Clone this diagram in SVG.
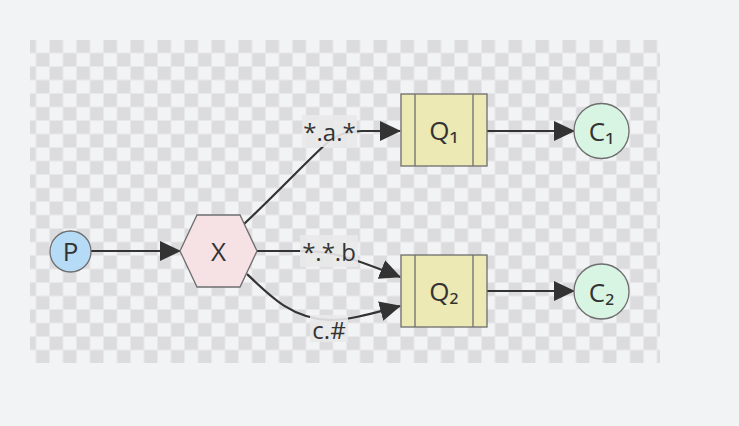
<svg xmlns="http://www.w3.org/2000/svg" width="739" height="426" viewBox="0 0 739 426">
<defs>
<pattern id="chk" patternUnits="userSpaceOnUse" x="22.5" y="39.5" width="27" height="27">
<rect x="0" y="0" width="27" height="27" fill="#f2f3f5"/>
<rect x="0" y="0" width="13.5" height="13.5" fill="#dcdcde"/>
<rect x="13.5" y="13.5" width="13.5" height="13.5" fill="#dcdcde"/>
</pattern>
<marker id="arr" markerUnits="userSpaceOnUse" markerWidth="22" markerHeight="22" refX="20" refY="10" orient="auto">
<path d="M0,0 L21,10 L0,20 z" fill="#333"/>
</marker>
</defs>
<style>
.edge{fill:none;stroke:#333;stroke-width:2.2;marker-end:url(#arr)}
.txt{font-family:"Open Sans","Noto Sans","DejaVu Sans",sans-serif;fill:#333;text-anchor:middle;dominant-baseline:central}
.nt{font-size:26px}
.lt{font-size:24px}
.sub{font-size:16px}
.lbg{fill:#e9e9ea;opacity:0.9}
.ns{stroke:#6e6e6e;stroke-width:1.3}
</style>
<rect width="739" height="426" fill="#f2f3f5"/>
<rect x="30" y="40" width="630" height="323" fill="url(#chk)"/>
<g id="edges">
<path class="edge" d="M91,251 L180,251"/>
<path class="edge" d="M244,224 C280,190 310,158 328,142 C338,134 350,131 362,131 L400,131"/>
<path class="edge" d="M257,251 L300,251 C330,251 345,255 400,277"/>
<path class="edge" d="M247,274 C272,298 292,318 329,320 C350,320 370,314 400,306"/>
<path class="edge" d="M487,131 L574,131"/>
<path class="edge" d="M487,291 L574,291"/>
</g>
<g id="label-a">
<rect class="lbg" x="302" y="115" width="55" height="32"/>
<text class="txt lt" x="329.5" y="131">*.a.*</text>
</g>
<g id="label-b">
<rect class="lbg" x="300" y="235" width="58" height="32"/>
<text class="txt lt" x="329" y="251">*.*.b</text>
</g>
<g id="label-c">
<rect class="lbg" x="310" y="315" width="38" height="27"/>
<text class="txt lt" x="329" y="329">c.#</text>
</g>
<g id="P">
<circle class="ns" cx="70.5" cy="251.5" r="20.5" fill="#b5dbf6"/>
<text class="txt nt" x="70.5" y="251">P</text>
</g>
<g id="X">
<polygon class="ns" points="180,251 197,215 240,215 257,251 240,287 197,287" fill="#f6e1e4"/>
<text class="txt nt" x="218.5" y="251">X</text>
</g>
<g id="Q1">
<rect class="ns" x="401" y="94" width="86" height="72" fill="#ece9b4"/>
<line class="ns" x1="415" y1="94" x2="415" y2="166"/>
<line class="ns" x1="473" y1="94" x2="473" y2="166"/>
<text class="txt nt" x="444" y="130">Q₁</text>
</g>
<g id="Q2">
<rect class="ns" x="401" y="255" width="86" height="72" fill="#ece9b4"/>
<line class="ns" x1="415" y1="255" x2="415" y2="327"/>
<line class="ns" x1="473" y1="255" x2="473" y2="327"/>
<text class="txt nt" x="444" y="291">Q₂</text>
</g>
<g id="C1">
<circle class="ns" cx="601.5" cy="131" r="27.5" fill="#d8f5e4"/>
<text class="txt nt" x="601.5" y="131">C₁</text>
</g>
<g id="C2">
<circle class="ns" cx="601.5" cy="291.5" r="27.5" fill="#d8f5e4"/>
<text class="txt nt" x="601.5" y="291.5">C₂</text>
</g>
</svg>
